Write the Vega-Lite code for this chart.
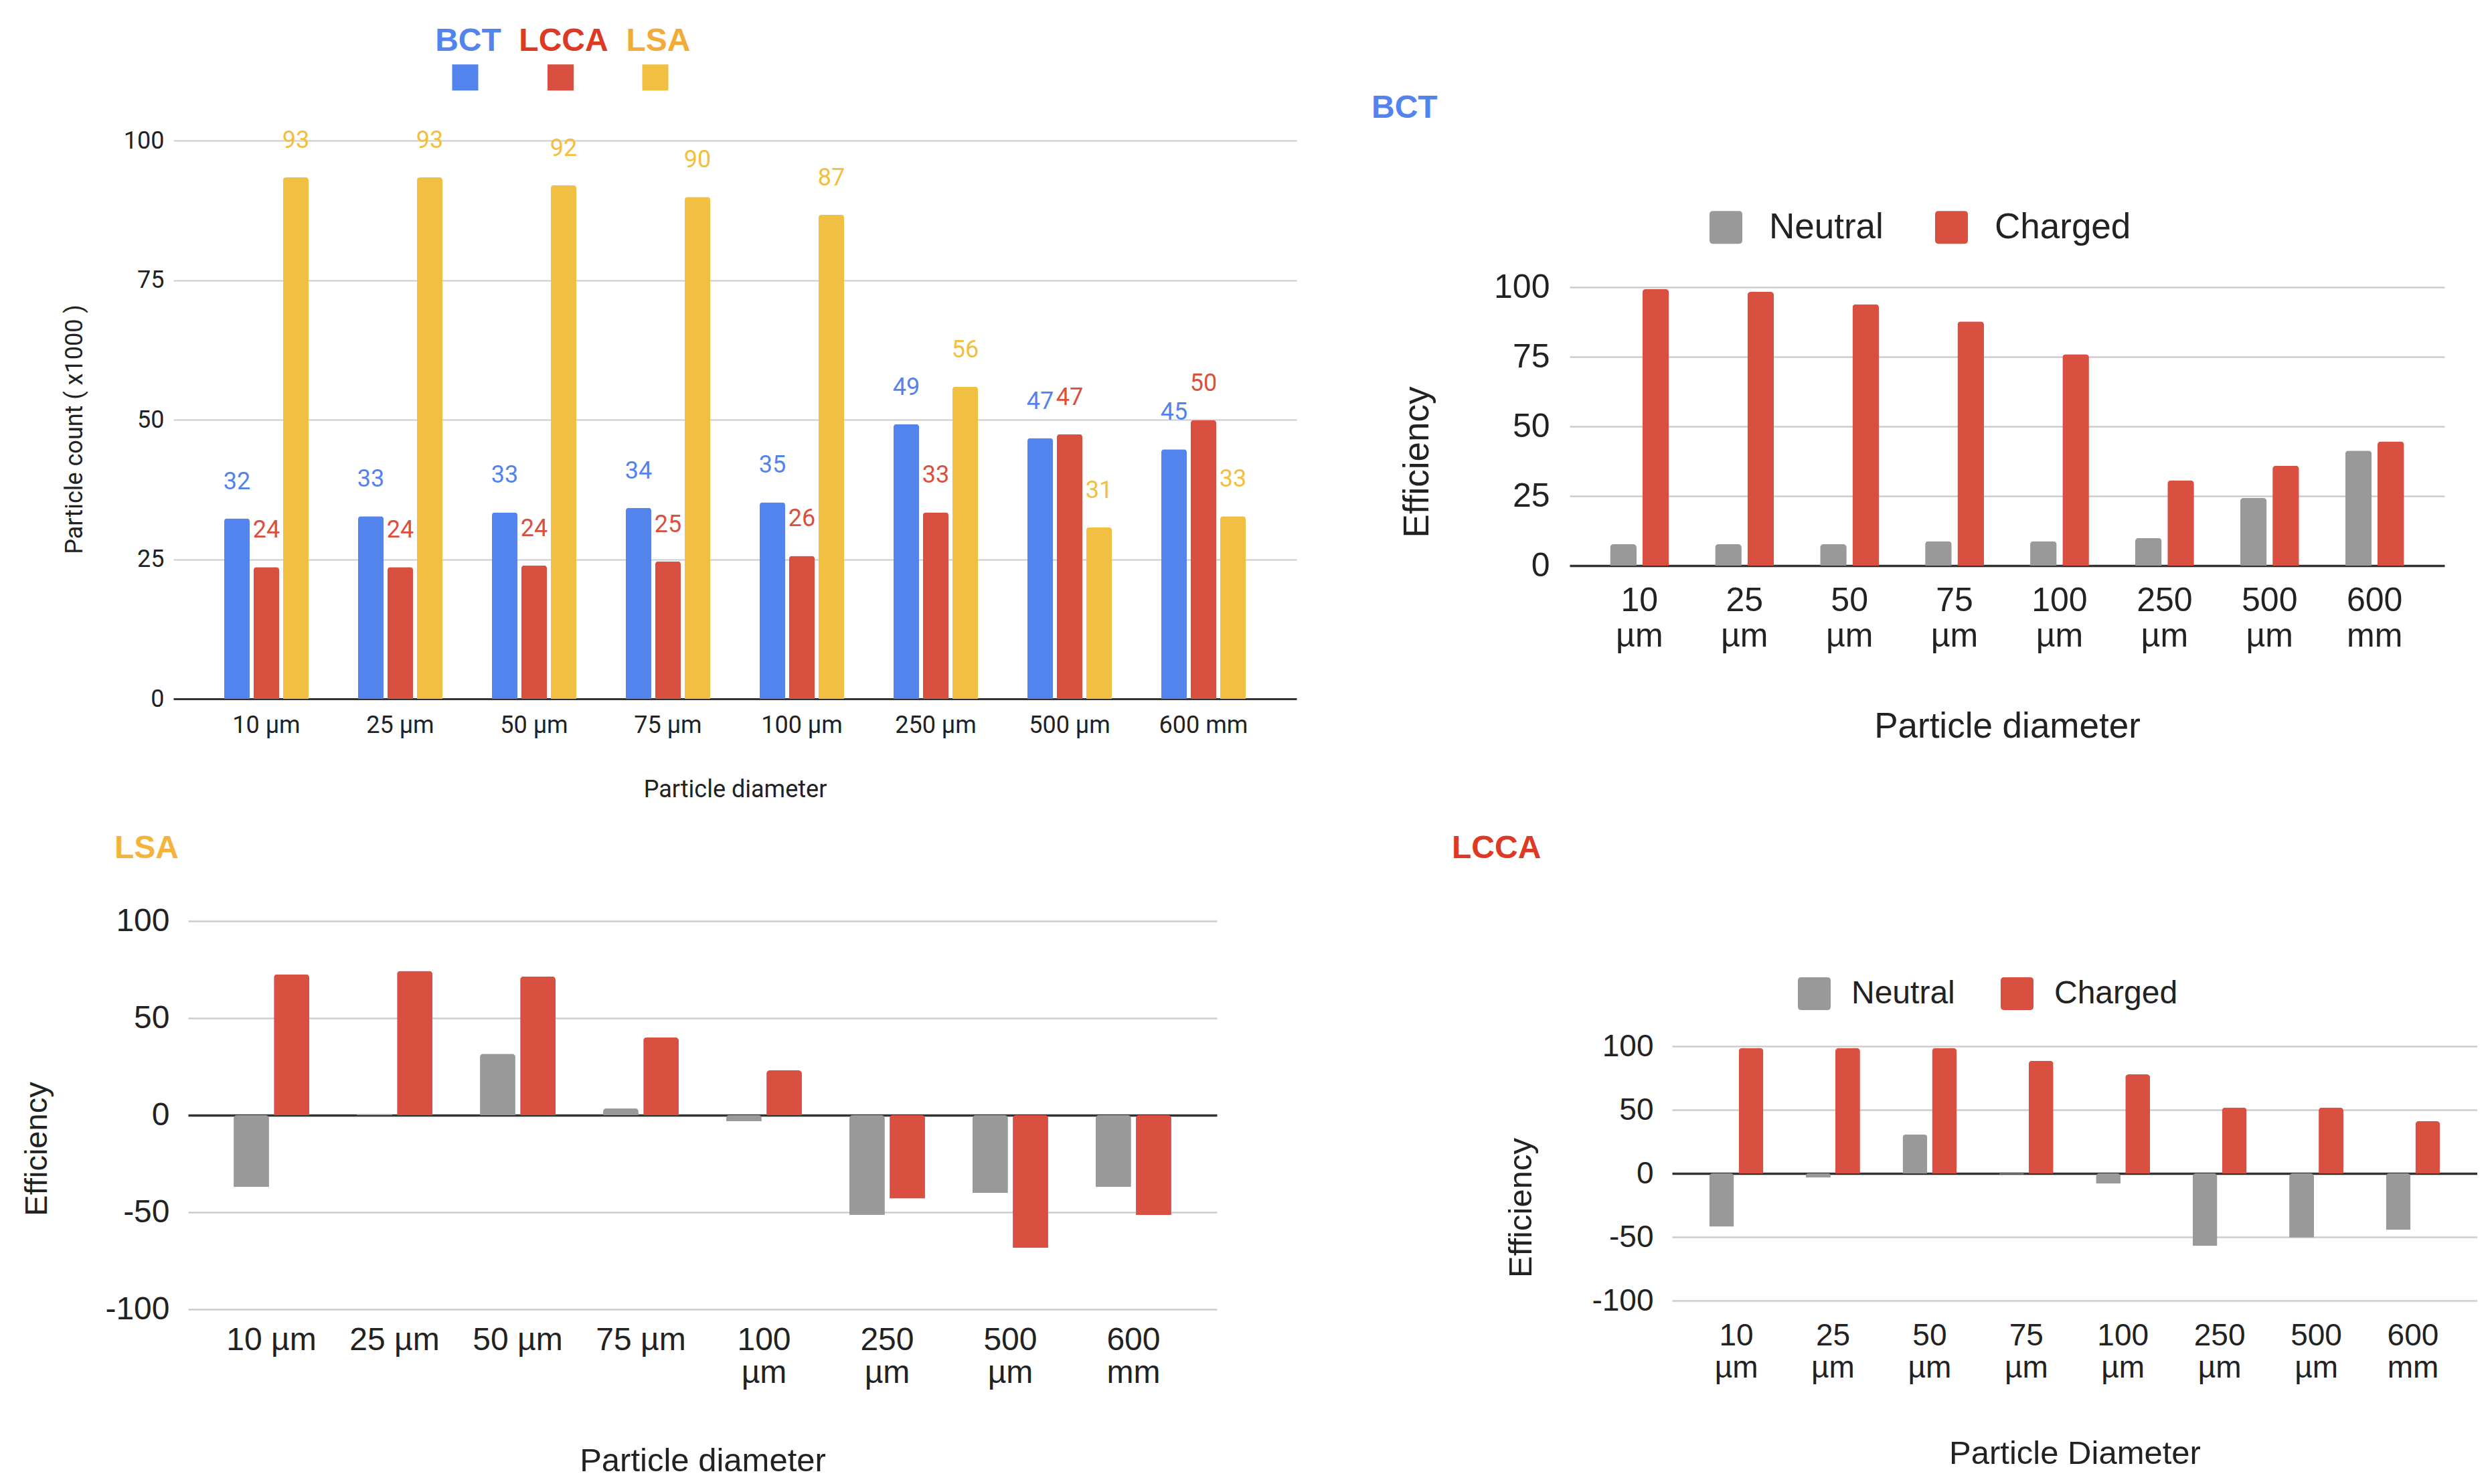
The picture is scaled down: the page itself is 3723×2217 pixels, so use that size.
{
  "$schema": "https://vega.github.io/schema/vega-lite/v6.json",
  "background": "white",
  "padding": {"left": 31, "top": 91, "right": 0, "bottom": 0},
  "config": {"view": {"stroke": null}, "font": "Liberation Sans"},
  "datasets": {
    "counts": [
      {"diameter": "10 µm", "series": "BCT", "count": 32.3},
      {"diameter": "10 µm", "series": "LCCA", "count": 23.6},
      {"diameter": "10 µm", "series": "LSA", "count": 93.4},
      {"diameter": "25 µm", "series": "BCT", "count": 32.7},
      {"diameter": "25 µm", "series": "LCCA", "count": 23.6},
      {"diameter": "25 µm", "series": "LSA", "count": 93.4},
      {"diameter": "50 µm", "series": "BCT", "count": 33.4},
      {"diameter": "50 µm", "series": "LCCA", "count": 23.9},
      {"diameter": "50 µm", "series": "LSA", "count": 92.0},
      {"diameter": "75 µm", "series": "BCT", "count": 34.2},
      {"diameter": "75 µm", "series": "LCCA", "count": 24.6},
      {"diameter": "75 µm", "series": "LSA", "count": 89.9},
      {"diameter": "100 µm", "series": "BCT", "count": 35.2},
      {"diameter": "100 µm", "series": "LCCA", "count": 25.6},
      {"diameter": "100 µm", "series": "LSA", "count": 86.7},
      {"diameter": "250 µm", "series": "BCT", "count": 49.2},
      {"diameter": "250 µm", "series": "LCCA", "count": 33.4},
      {"diameter": "250 µm", "series": "LSA", "count": 55.9},
      {"diameter": "500 µm", "series": "BCT", "count": 46.7},
      {"diameter": "500 µm", "series": "LCCA", "count": 47.4},
      {"diameter": "500 µm", "series": "LSA", "count": 30.7},
      {"diameter": "600 mm", "series": "BCT", "count": 44.7},
      {"diameter": "600 mm", "series": "LCCA", "count": 49.9},
      {"diameter": "600 mm", "series": "LSA", "count": 32.7}
    ],
    "bct": [
      {"diameter": "10 µm", "charge": "Neutral", "efficiency": 7.7},
      {"diameter": "10 µm", "charge": "Charged", "efficiency": 99.3},
      {"diameter": "25 µm", "charge": "Neutral", "efficiency": 7.7},
      {"diameter": "25 µm", "charge": "Charged", "efficiency": 98.3},
      {"diameter": "50 µm", "charge": "Neutral", "efficiency": 7.7},
      {"diameter": "50 µm", "charge": "Charged", "efficiency": 93.9},
      {"diameter": "75 µm", "charge": "Neutral", "efficiency": 8.8},
      {"diameter": "75 µm", "charge": "Charged", "efficiency": 87.7},
      {"diameter": "100 µm", "charge": "Neutral", "efficiency": 8.8},
      {"diameter": "100 µm", "charge": "Charged", "efficiency": 75.9},
      {"diameter": "250 µm", "charge": "Neutral", "efficiency": 9.9},
      {"diameter": "250 µm", "charge": "Charged", "efficiency": 30.6},
      {"diameter": "500 µm", "charge": "Neutral", "efficiency": 24.3},
      {"diameter": "500 µm", "charge": "Charged", "efficiency": 35.9},
      {"diameter": "600 mm", "charge": "Neutral", "efficiency": 41.3},
      {"diameter": "600 mm", "charge": "Charged", "efficiency": 44.6}
    ],
    "lsa": [
      {"diameter": "10 µm", "charge": "Neutral", "efficiency": -37.0},
      {"diameter": "10 µm", "charge": "Charged", "efficiency": 72.6},
      {"diameter": "25 µm", "charge": "Neutral", "efficiency": 0.5},
      {"diameter": "25 µm", "charge": "Charged", "efficiency": 74.3},
      {"diameter": "50 µm", "charge": "Neutral", "efficiency": 31.6},
      {"diameter": "50 µm", "charge": "Charged", "efficiency": 71.5},
      {"diameter": "75 µm", "charge": "Neutral", "efficiency": 3.5},
      {"diameter": "75 µm", "charge": "Charged", "efficiency": 40.1},
      {"diameter": "100 µm", "charge": "Neutral", "efficiency": -3.1},
      {"diameter": "100 µm", "charge": "Charged", "efficiency": 23.1},
      {"diameter": "250 µm", "charge": "Neutral", "efficiency": -51.4},
      {"diameter": "250 µm", "charge": "Charged", "efficiency": -42.9},
      {"diameter": "500 µm", "charge": "Neutral", "efficiency": -40.1},
      {"diameter": "500 µm", "charge": "Charged", "efficiency": -68.4},
      {"diameter": "600 mm", "charge": "Neutral", "efficiency": -37.0},
      {"diameter": "600 mm", "charge": "Charged", "efficiency": -51.4}
    ],
    "lcca": [
      {"diameter": "10 µm", "charge": "Neutral", "efficiency": -41.8},
      {"diameter": "10 µm", "charge": "Charged", "efficiency": 98.6},
      {"diameter": "25 µm", "charge": "Neutral", "efficiency": -3.2},
      {"diameter": "25 µm", "charge": "Charged", "efficiency": 98.6},
      {"diameter": "50 µm", "charge": "Neutral", "efficiency": 30.7},
      {"diameter": "50 µm", "charge": "Charged", "efficiency": 98.6},
      {"diameter": "75 µm", "charge": "Neutral", "efficiency": -0.8},
      {"diameter": "75 µm", "charge": "Charged", "efficiency": 88.6},
      {"diameter": "100 µm", "charge": "Neutral", "efficiency": -7.9},
      {"diameter": "100 µm", "charge": "Charged", "efficiency": 77.9},
      {"diameter": "250 µm", "charge": "Neutral", "efficiency": -57.0},
      {"diameter": "250 µm", "charge": "Charged", "efficiency": 51.8},
      {"diameter": "500 µm", "charge": "Neutral", "efficiency": -50.4},
      {"diameter": "500 µm", "charge": "Charged", "efficiency": 51.8},
      {"diameter": "600 mm", "charge": "Neutral", "efficiency": -44.3},
      {"diameter": "600 mm", "charge": "Charged", "efficiency": 41.1}
    ]
  },
  "bounds": "full",
  "spacing": 112,
  "resolve": {"scale": {"color": "independent", "xOffset": "independent", "x": "independent", "y": "independent"}, "legend": {"color": "independent"}},
  "hconcat": [
    {
      "bounds": "flush",
      "spacing": 332,
      "resolve": {"scale": {"color": "independent", "xOffset": "independent", "x": "independent", "y": "independent"}, "legend": {"color": "independent"}},
      "vconcat": [
        {
          "width": 1678,
          "height": 834,
          "data": {"name": "counts"},
          "encoding": {
            "x": {
              "field": "diameter", "type": "nominal", "sort": null,
              "scale": {"paddingInner": 0.37, "paddingOuter": 0.38},
              "axis": {
                "title": "Particle diameter", "labelAngle": 0, "labelFont": "Roboto", "labelFontSize": 36,
                "labelColor": "#222222", "labelPadding": 22, "ticks": false, "tickSize": 0, "domain": false,
                "titleFont": "Roboto", "titleFontSize": 36, "titleFontWeight": "normal", "titleColor": "#222222",
                "titleY": 146, "titleBaseline": "alphabetic"
              }
            },
            "xOffset": {"field": "series", "type": "nominal", "sort": ["BCT", "LCCA", "LSA"], "scale": {"paddingInner": 0.136, "paddingOuter": 0}},
            "y": {
              "field": "count", "type": "quantitative",
              "scale": {"domain": [0, 100], "nice": false},
              "axis": {
                "title": "Particle count ( x1000 )", "values": [0, 25, 50, 75, 100],
                "labelFont": "Roboto", "labelFontSize": 36, "labelColor": "#222222", "labelPadding": 14,
                "ticks": false, "tickSize": 0, "domain": false,
                "gridColor": {"condition": {"test": "datum.value === 0", "value": "#333333"}, "value": "#cccccc"},
                "gridWidth": {"condition": {"test": "datum.value === 0", "value": 3}, "value": 2},
                "titleFont": "Roboto", "titleFontSize": 36, "titleFontWeight": "normal", "titleColor": "#222222",
                "titleX": -137, "titleY": 431, "titleAngle": -90, "titleAlign": "center", "titleBaseline": "alphabetic"
              }
            },
            "color": {
              "field": "series", "type": "nominal",
              "scale": {"domain": ["BCT", "LCCA", "LSA"], "range": ["#5383ec", "#d95040", "#f1bf42"]},
              "legend": {
                "title": null, "orient": "none", "legendX": 412, "legendY": -118.5, "direction": "horizontal",
                "symbolType": "square", "symbolSize": 1521, "symbolStrokeWidth": 0, "symbolOpacity": 1,
                "labelFont": "Liberation Sans", "labelFontSize": 48, "labelFontWeight": "bold", "labelLimit": 500,
                "labelOffset": -19.5, "labelAlign": "center", "labelBaseline": "alphabetic",
                "columnPadding": 25.5, "padding": 0,
                "encode": {
                  "labels": {
                    "update": {
                      "dy": {"value": -39.5},
                      "fill": [
                        {"test": "datum.label === 'BCT'", "value": "#5383ec"},
                        {"test": "datum.label === 'LCCA'", "value": "#dc3a25"},
                        {"value": "#f2ab38"}
                      ]
                    }
                  }
                }
              }
            }
          },
          "layer": [
            {"mark": {"type": "bar", "cornerRadiusEnd": 4}},
            {
              "mark": {"type": "text", "baseline": "alphabetic", "dy": -44, "font": "Roboto", "fontSize": 36},
              "encoding": {"text": {"field": "count", "type": "quantitative", "format": ".0f"}}
            }
          ]
        },
        {
          "bounds": "flush",
          "spacing": 21,
          "resolve": {"scale": {"color": "independent", "xOffset": "independent", "x": "independent", "y": "independent"}, "legend": {"color": "independent"}},
          "hconcat": [
            {"width": 1, "height": 1, "data": {"values": []}, "mark": "point"},
            {
              "width": 1537,
              "height": 580,
              "data": {"name": "lsa"},
              "title": {
                "text": "LSA", "anchor": "start", "frame": "group", "dx": -110, "offset": 22,
                "font": "Liberation Sans", "fontSize": 48, "fontWeight": "bold", "color": "#f4b43c", "baseline": "alphabetic"
              },
              "mark": {"type": "bar", "cornerRadiusEnd": 5},
              "encoding": {
                "x": {
                  "field": "diameter", "type": "nominal", "sort": null,
                  "scale": {"paddingInner": 0.386, "paddingOuter": 0.37},
                  "axis": {
                    "title": "Particle diameter", "labelAngle": 0,
                    "labelExpr": "length(datum.label) > 5 ? split(datum.label, ' ') : datum.label",
                    "labelFontSize": 48, "labelLineHeight": 49, "labelColor": "#222222", "labelPadding": 22,
                    "ticks": false, "tickSize": 0, "domain": false,
                    "titleFontSize": 49, "titleFontWeight": "normal", "titleColor": "#222222",
                    "titleY": 241, "titleBaseline": "alphabetic"
                  }
                },
                "xOffset": {"field": "charge", "type": "nominal", "sort": ["Neutral", "Charged"], "scale": {"paddingInner": 0.12, "paddingOuter": 0}},
                "y": {
                  "field": "efficiency", "type": "quantitative",
                  "scale": {"domain": [-100, 100], "nice": false},
                  "axis": {
                    "title": "Efficiency", "values": [-100, -50, 0, 50, 100], "labelExpr": "'' + datum.value",
                    "labelFontSize": 48, "labelColor": "#222222", "labelPadding": 28,
                    "ticks": false, "tickSize": 0, "domain": false,
                    "gridColor": {"condition": {"test": "datum.value === 0", "value": "#333333"}, "value": "#cccccc"},
                    "gridWidth": {"condition": {"test": "datum.value === 0", "value": 3.5}, "value": 2.5},
                    "titleFontSize": 47, "titleFontWeight": "normal", "titleColor": "#222222",
                    "titleX": -212, "titleY": 340, "titleAngle": -90, "titleAlign": "center", "titleBaseline": "alphabetic"
                  }
                },
                "color": {
                  "field": "charge", "type": "nominal",
                  "scale": {"domain": ["Neutral", "Charged"], "range": ["#999999", "#d95040"]},
                  "legend": null
                }
              }
            }
          ]
        }
      ]
    },
    {
      "bounds": "flush",
      "spacing": 0,
      "resolve": {"scale": {"color": "independent", "xOffset": "independent", "x": "independent", "y": "independent"}, "legend": {"color": "independent"}},
      "vconcat": [
        {"width": 1, "height": 219, "data": {"values": []}, "mark": "point"},
        {
          "width": 1307,
          "height": 416,
          "data": {"name": "bct"},
          "title": {
            "text": "BCT", "anchor": "start", "frame": "group", "dx": -296, "offset": 89,
            "font": "Liberation Sans", "fontSize": 48, "fontWeight": "bold", "color": "#5383ec", "baseline": "alphabetic"
          },
          "mark": {"type": "bar", "cornerRadiusEnd": 5},
          "encoding": {
            "x": {
              "field": "diameter", "type": "nominal", "sort": null,
              "scale": {"paddingInner": 0.44, "paddingOuter": 0.385},
              "axis": {
                "title": "Particle diameter", "labelAngle": 0, "labelExpr": "split(datum.label, ' ')",
                "labelFontSize": 50, "labelLineHeight": 53, "labelColor": "#222222", "labelPadding": 27,
                "ticks": false, "tickSize": 0, "domain": false,
                "titleFontSize": 53, "titleFontWeight": "normal", "titleColor": "#222222",
                "titleY": 256, "titleBaseline": "alphabetic"
              }
            },
            "xOffset": {"field": "charge", "type": "nominal", "sort": ["Neutral", "Charged"], "scale": {"paddingInner": 0.18, "paddingOuter": 0}},
            "y": {
              "field": "efficiency", "type": "quantitative",
              "scale": {"domain": [0, 100], "nice": false},
              "axis": {
                "title": "Efficiency", "values": [0, 25, 50, 75, 100],
                "labelFontSize": 50, "labelColor": "#222222", "labelPadding": 30,
                "ticks": false, "tickSize": 0, "domain": false,
                "gridColor": {"condition": {"test": "datum.value === 0", "value": "#333333"}, "value": "#cccccc"},
                "gridWidth": {"condition": {"test": "datum.value === 0", "value": 3.5}, "value": 2.5},
                "titleFontSize": 53, "titleFontWeight": "normal", "titleColor": "#222222",
                "titleX": -212, "titleY": 261, "titleAngle": -90, "titleAlign": "center", "titleBaseline": "alphabetic"
              }
            },
            "color": {
              "field": "charge", "type": "nominal",
              "scale": {"domain": ["Neutral", "Charged"], "range": ["#999999", "#d95040"]},
              "legend": {
                "title": null, "orient": "none", "legendX": 207, "legendY": -116, "direction": "horizontal",
                "symbolType": "M-1,-0.8 Q-1,-1 -0.8,-1 L0.8,-1 Q1,-1 1,-0.8 L1,0.8 Q1,1 0.8,1 L-0.8,1 Q-1,1 -1,0.8 Z",
                "symbolSize": 2401, "symbolStrokeWidth": 0, "symbolOpacity": 1, "labelLimit": 500,
                "labelFontSize": 53, "labelColor": "#222222", "labelOffset": 38, "columnPadding": 75, "padding": 0
              }
            }
          }
        },
        {"width": 1, "height": 718, "data": {"values": []}, "mark": "point"},
        {
          "bounds": "flush",
          "spacing": 152,
          "resolve": {"scale": {"color": "independent", "xOffset": "independent", "x": "independent", "y": "independent"}, "legend": {"color": "independent"}},
          "hconcat": [
            {"width": 1, "height": 1, "data": {"values": []}, "mark": "point"},
            {
              "width": 1203,
              "height": 380,
              "data": {"name": "lcca"},
              "title": {
                "text": "LCCA", "anchor": "start", "frame": "group", "dx": -329, "offset": 130,
                "font": "Liberation Sans", "fontSize": 48, "fontWeight": "bold", "color": "#dc3a25", "baseline": "alphabetic"
              },
              "mark": {"type": "bar", "cornerRadiusEnd": 5},
              "encoding": {
                "x": {
                  "field": "diameter", "type": "nominal", "sort": null,
                  "scale": {"paddingInner": 0.44, "paddingOuter": 0.385},
                  "axis": {
                    "title": "Particle Diameter", "labelAngle": 0, "labelExpr": "split(datum.label, ' ')",
                    "labelFontSize": 46, "labelLineHeight": 48, "labelColor": "#222222", "labelPadding": 30,
                    "ticks": false, "tickSize": 0, "domain": false,
                    "titleFontSize": 49, "titleFontWeight": "normal", "titleColor": "#222222",
                    "titleY": 243, "titleBaseline": "alphabetic"
                  }
                },
                "xOffset": {"field": "charge", "type": "nominal", "sort": ["Neutral", "Charged"], "scale": {"paddingInner": 0.16, "paddingOuter": 0}},
                "y": {
                  "field": "efficiency", "type": "quantitative",
                  "scale": {"domain": [-100, 100], "nice": false},
                  "axis": {
                    "title": "Efficiency", "values": [-100, -50, 0, 50, 100], "labelExpr": "'' + datum.value",
                    "labelFontSize": 46, "labelColor": "#222222", "labelPadding": 28,
                    "ticks": false, "tickSize": 0, "domain": false,
                    "gridColor": {"condition": {"test": "datum.value === 0", "value": "#333333"}, "value": "#cccccc"},
                    "gridWidth": {"condition": {"test": "datum.value === 0", "value": 3.5}, "value": 2.5},
                    "titleFontSize": 49, "titleFontWeight": "normal", "titleColor": "#222222",
                    "titleX": -211, "titleY": 241, "titleAngle": -90, "titleAlign": "center", "titleBaseline": "alphabetic"
                  }
                },
                "color": {
                  "field": "charge", "type": "nominal",
                  "scale": {"domain": ["Neutral", "Charged"], "range": ["#999999", "#d95040"]},
                  "legend": {
                    "title": null, "orient": "none", "legendX": 188, "legendY": -103, "direction": "horizontal",
                    "symbolType": "M-1,-0.8 Q-1,-1 -0.8,-1 L0.8,-1 Q1,-1 1,-0.8 L1,0.8 Q1,1 0.8,1 L-0.8,1 Q-1,1 -1,0.8 Z",
                    "symbolSize": 2401, "symbolStrokeWidth": 0, "symbolOpacity": 1, "labelLimit": 500,
                    "labelFontSize": 48, "labelColor": "#222222", "labelOffset": 31, "columnPadding": 68, "padding": 0
                  }
                }
              }
            }
          ]
        }
      ]
    }
  ]
}
